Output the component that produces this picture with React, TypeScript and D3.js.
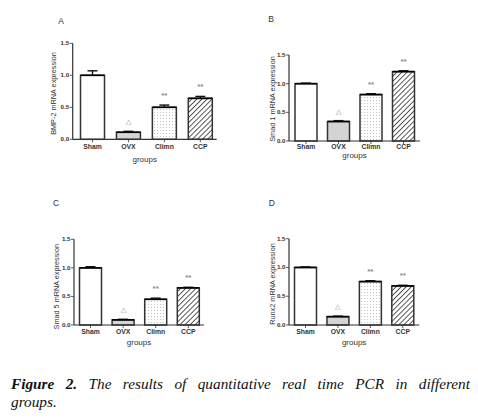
import React, { useLayoutEffect, useRef, useState } from "react";
import * as d3 from "d3";

const categories = ["Sham", "OVX", "Climn", "CCP"];
const yTicks = [0, 0.5, 1.0, 1.5];
const panelLetters = ["A", "B", "C", "D"];
const yLabels = [
  "BMP-2 mRNA expression",
  "Smad 1 mRNA expression",
  "Smad 5 mRNA expression",
  "Runx2 mRNA expression",
];
const valuesA = [1.0, 0.11, 0.5, 0.64];
const errorsA = [0.07, 0.015, 0.035, 0.03];
const valuesB = [1.0, 0.34, 0.81, 1.21];
const errorsB = [0.01, 0.015, 0.015, 0.015];
const valuesC = [1.0, 0.09, 0.45, 0.65];
const errorsC = [0.02, 0.01, 0.02, 0.01];
const valuesD = [1.0, 0.145, 0.755, 0.68];
const errorsD = [0.01, 0.01, 0.015, 0.01];
const marks = ["", "△", "**", "**"];
const xTitle = "groups";
const captionBold = "Figure 2.";
const captionLine1 = "The results of quantitative real time PCR in different";
const captionLine2 = "groups.";

const panelData = [
  { values: valuesA, errors: errorsA },
  { values: valuesB, errors: errorsB },
  { values: valuesC, errors: errorsC },
  { values: valuesD, errors: errorsD },
];

// layout (pixel geometry only)
const layouts = [
  { axisX: 72.7, y0: 139.3, yTop: 43.3, xEnd: 216.7, c0: 92.5, c1: 200.3, bw: 24, letter: [61, 21], ylab: [53.3, 93.5], xlabY: 148.8, gY: 161.5 },
  { axisX: 289, y0: 141, yTop: 55, xEnd: 420, c0: 306, c1: 403.5, bw: 22, letter: [271, 19], ylab: [272.3, 99], xlabY: 149, gY: 158 },
  { axisX: 74, y0: 325, yTop: 239.3, xEnd: 204, c0: 90.5, c1: 188.3, bw: 22, letter: [56, 202.7], ylab: [56.7, 286.7], xlabY: 333.6, gY: 345 },
  { axisX: 289, y0: 325, yTop: 238.7, xEnd: 419.3, c0: 305.5, c1: 402.8, bw: 22, letter: [271.7, 202.7], ylab: [272.3, 284], xlabY: 333.6, gY: 345 },
];

const fills = ["#ffffff", "#d4d4d4", "url(#dots)", "url(#hatch)"];
const sans = "'Liberation Sans', Arial, sans-serif";
const serif = "'Liberation Serif', serif";

function Panel({ idx }: { idx: number }) {
  const L = layouts[idx];
  const { values, errors } = panelData[idx];
  const y = d3.scaleLinear().domain([0, 1.5]).range([L.y0, L.yTop]);
  const x = d3.scalePoint<string>().domain(categories).range([L.c0, L.c1]);
  return (
    <g>
      <text x={L.letter[0]} y={L.letter[1] + 3} fontSize={8.5} fontFamily={sans} textAnchor="middle" fill="#333">
        {panelLetters[idx]}
      </text>
      {categories.map((c, i) => {
        const cx = x(c)!;
        const top = y(values[i]);
        const et = y(values[i] + errors[i]);
        const tri = marks[i] === "△";
        return (
          <g key={c}>
            <line x1={cx} x2={cx} y1={top} y2={et} stroke="#111" strokeWidth={1.4} />
            <line x1={cx - 5} x2={cx + 5} y1={et} y2={et} stroke="#111" strokeWidth={1.4} />
            <rect x={cx - L.bw / 2} y={top} width={L.bw} height={L.y0 - top} fill={fills[i]} stroke="#333" strokeWidth={1.5} />
            <line x1={cx - L.bw / 2} x2={cx + L.bw / 2} y1={top} y2={top} stroke="#000" strokeWidth={1.6} />
            {marks[i] && (
              <text
                x={cx}
                y={et - 7}
                fontSize={tri ? 6.5 : 8}
                fontWeight={tri ? "normal" : "bold"}
                fontFamily={sans}
                textAnchor="middle"
                fill="#8a8a8a"
              >
                {marks[i]}
              </text>
            )}
            <line x1={cx} x2={cx} y1={L.y0} y2={L.y0 + 3} stroke="#333" strokeWidth={0.8} />
            <text x={cx} y={L.xlabY} fontSize={6.8} fontWeight="bold" fontFamily={sans} textAnchor="middle" fill="#333">
              {c}
            </text>
          </g>
        );
      })}
      <line x1={L.axisX} x2={L.axisX} y1={L.yTop} y2={L.y0} stroke="#333" strokeWidth={1.2} />
      <line x1={L.axisX} x2={L.xEnd} y1={L.y0} y2={L.y0} stroke="#333" strokeWidth={1.2} />
      {yTicks.map((t) => (
        <g key={t}>
          <line x1={L.axisX - 3} x2={L.axisX} y1={y(t)} y2={y(t)} stroke="#333" strokeWidth={0.8} />
          <text x={L.axisX - 3.5} y={y(t) + 2} fontSize={6.2} fontWeight="bold" fontFamily={sans} textAnchor="end" fill="#333">
            {d3.format(".1f")(t)}
          </text>
        </g>
      ))}
      <text
        transform={`translate(${L.ylab[0]},${L.ylab[1]}) rotate(-90)`}
        fontSize={7.3}
        fontFamily={sans}
        textAnchor="middle"
        dominantBaseline="central"
        fill="#333"
      >
        {yLabels[idx]}
      </text>
      <text x={(L.axisX + L.xEnd) / 2} y={L.gY} fontSize={8} fontFamily={sans} textAnchor="middle" fill="#333">
        {xTitle}
      </text>
    </g>
  );
}

function Caption() {
  const ref = useRef<SVGTextElement>(null);
  const [ws, setWs] = useState(0);
  const gaps = captionLine1.split(" ").length + 1;
  useLayoutEffect(() => {
    if (ref.current) {
      const w = ref.current.getComputedTextLength();
      setWs(Math.max(0, (459 - w) / gaps));
    }
  }, []);
  return (
    <g>
      <text ref={ref} x={11} y={389} fontSize={15.3} fontFamily={serif} fontStyle="italic" fill="#111" wordSpacing={ws}>
        <tspan fontWeight="bold">{captionBold}</tspan> {captionLine1}
      </text>
      <text x={11} y={406.5} fontSize={15.3} fontFamily={serif} fontStyle="italic" fill="#111">
        {captionLine2}
      </text>
    </g>
  );
}

export default function App() {
  return (
    <svg width={478} height={419} style={{ position: "absolute", left: 0, top: 0, background: "#fff" }}>
      <defs>
        <pattern id="dots" width={3} height={3} patternUnits="userSpaceOnUse">
          <rect width={3} height={3} fill="#fff" />
          <rect x={1} y={1} width={1} height={1} fill="#c4c4c4" />
        </pattern>
        <pattern id="hatch" width={3.6} height={3.6} patternUnits="userSpaceOnUse" patternTransform="rotate(45)">
          <rect width={3.6} height={3.6} fill="#fff" />
          <line x1={0} y1={0} x2={0} y2={3.6} stroke="#222" strokeWidth={1.5} />
        </pattern>
      </defs>
      <rect width={478} height={419} fill="#fff" />
      {[0, 1, 2, 3].map((i) => (
        <Panel key={i} idx={i} />
      ))}
      <Caption />
    </svg>
  );
}
